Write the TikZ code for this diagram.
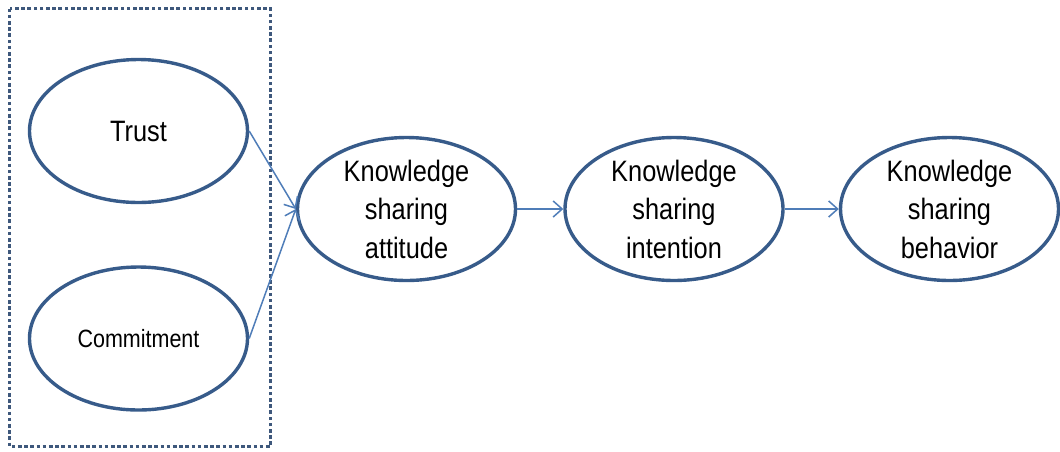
\documentclass[tikz,border=0pt]{standalone}
\usepackage{fontspec}
\setmainfont{Liberation Sans}[FakeStretch=0.86]
\usetikzlibrary{shapes.geometric,arrows.meta}
\definecolor{ellipseblue}{HTML}{375B8A}
\definecolor{arrowblue}{HTML}{4F7DB8}
\definecolor{boxblue}{HTML}{3E587C}
\tikzset{
  construct/.style={ellipse, draw=ellipseblue, line width=3.4pt, fill=white,
    minimum width=218pt, minimum height=143pt, inner sep=0pt,
    align=center, font=\fontsize{29.5}{38.5}\selectfont},
  link/.style={draw=arrowblue, line width=1.5pt,
    -{Straight Barb[length=9pt,width=16pt,line width=1.5pt]}},
  groupbox/.style={draw=boxblue, line width=3.6pt, dash pattern=on 3.6pt off 2.6pt}
}
\begin{document}
\begin{tikzpicture}[x=1pt,y=-1pt]
  \useasboundingbox (0,0) rectangle (1060,451);
  % group of antecedents
  \draw[groupbox] (9.5,8.5) rectangle (270.5,446.5);
  \node[construct] (trust) at (138.5,131) {Trust};
  \node[construct, font=\fontsize{25}{30}\selectfont] (commit) at (138.5,338.5) {Commitment};
  % knowledge sharing chain
  \node[construct] (att) at (406.5,209) {Knowledge\\sharing\\attitude};
  \node[construct] (int) at (674,209) {Knowledge\\sharing\\intention};
  \node[construct] (beh) at (949.5,209) {Knowledge\\sharing\\behavior};
  \draw[link] (trust.east) -- (att.west);
  \draw[link] (commit.east) -- (att.west);
  \draw[link] (att.east) -- (int.west);
  \draw[link] (int.east) -- (beh.west);
\end{tikzpicture}
\end{document}
